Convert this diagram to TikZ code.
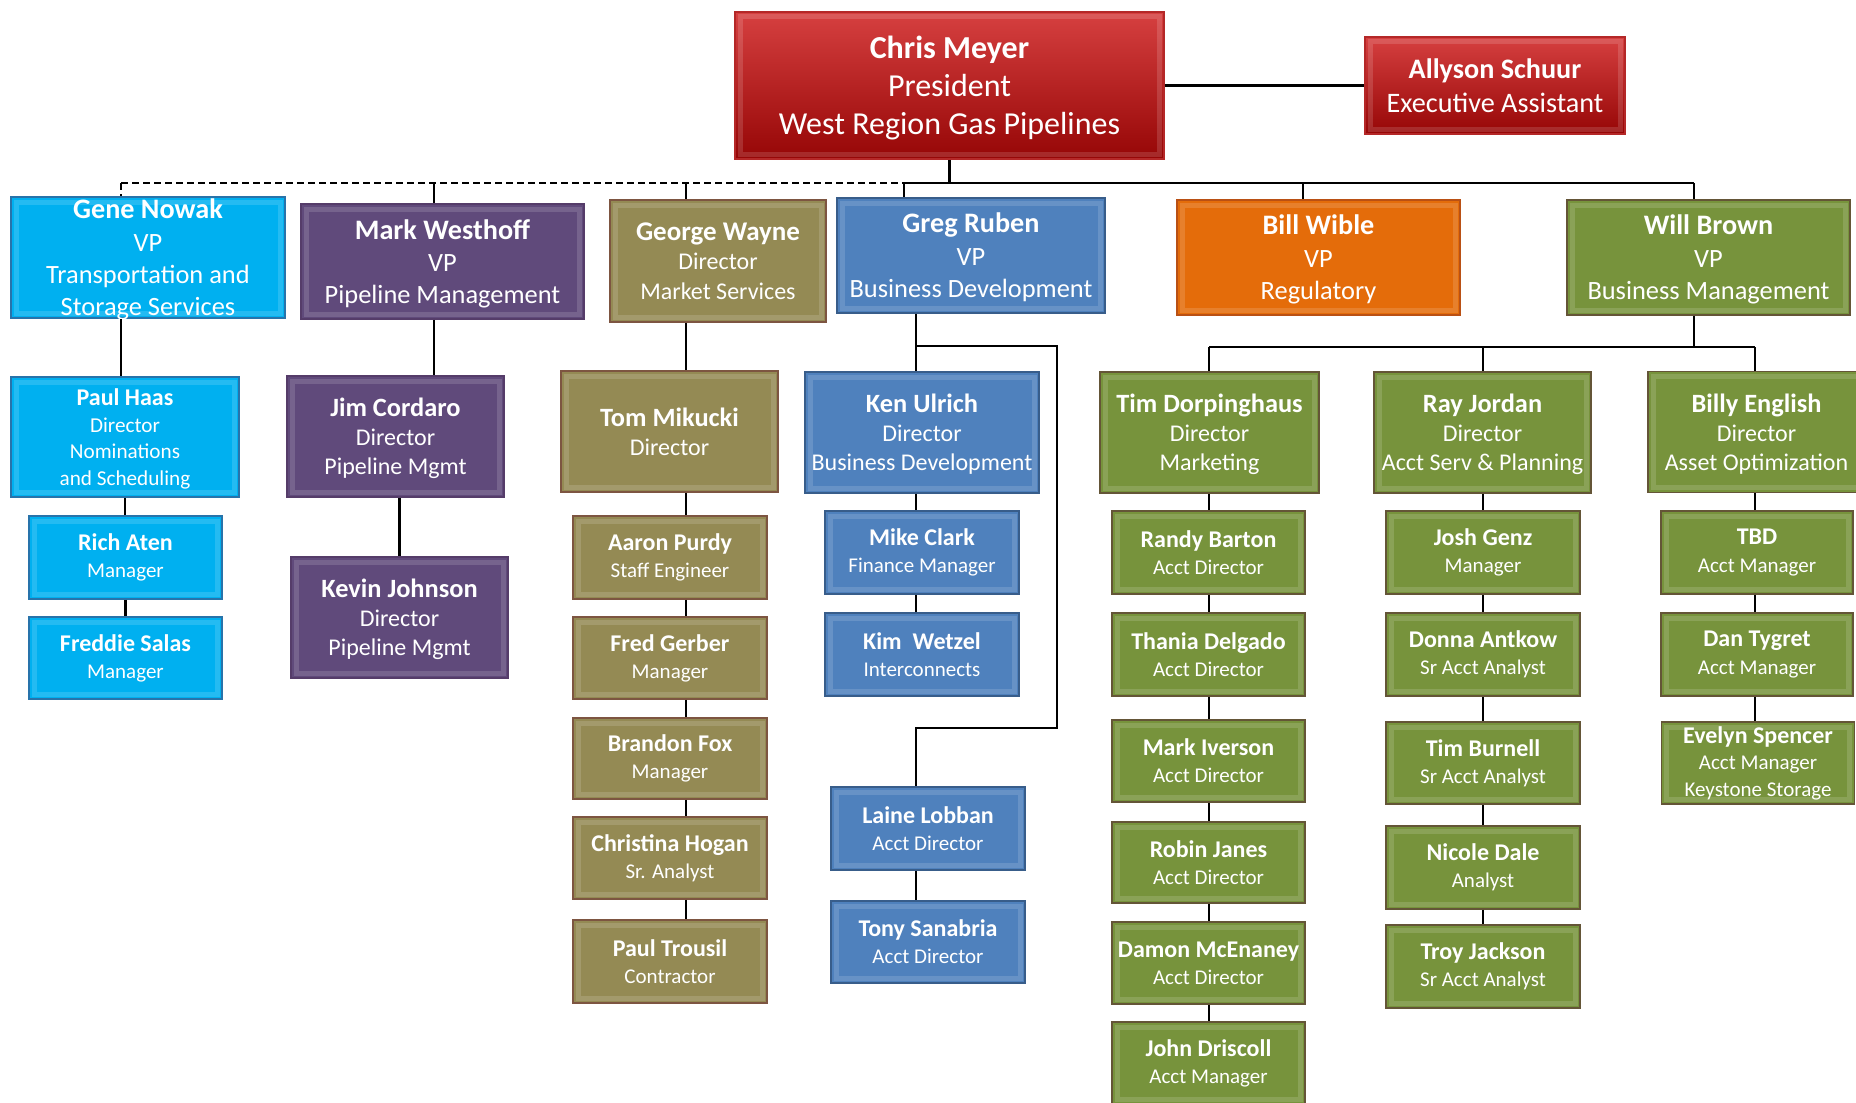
\documentclass[tikz,border=0pt]{standalone}
\usepackage{fontspec}
\setmainfont{Carlito}

\definecolor{redtop}{RGB}{214,64,64}
\definecolor{redbot}{RGB}{150,6,6}
\definecolor{redline}{RGB}{180,40,40}
\definecolor{cyanfill}{RGB}{0,176,240}
\definecolor{cyanline}{RGB}{40,115,170}
\definecolor{purplefill}{RGB}{96,74,123}
\definecolor{purpleline}{RGB}{85,60,105}
\definecolor{olivefill}{RGB}{148,138,84}
\definecolor{oliveline}{RGB}{125,85,65}
\definecolor{bluefill}{RGB}{79,129,189}
\definecolor{blueline}{RGB}{56,93,138}
\definecolor{orangefill}{RGB}{228,108,10}
\definecolor{orangeline}{RGB}{185,80,20}
\definecolor{greenfill}{RGB}{119,147,60}
\definecolor{greenline}{RGB}{100,85,55}

\tikzset{every picture/.style={line width=0.75pt}}
\tikzset{
	boxsize/.style 2 args={minimum width=#1*0.5pt, minimum height=#2*0.5pt},
	orgbox/.style={rectangle, inner sep=0pt, text=white, align=center, line width=0.8pt,
		path picture={\draw[white, opacity=0.14, line width=2.5pt]
			([shift={(2.5pt,-2.5pt)}]path picture bounding box.north west) rectangle
			([shift={(-2.5pt,2.5pt)}]path picture bounding box.south east);}},
	redbox/.style={orgbox, top color=redtop, bottom color=redbot, draw=redline},
	cyanbox/.style={orgbox, fill=cyanfill, draw=cyanline},
	purplebox/.style={orgbox, fill=purplefill, draw=purpleline},
	olivebox/.style={orgbox, fill=olivefill, draw=oliveline},
	bluebox/.style={orgbox, fill=bluefill, draw=blueline},
	orangebox/.style={orgbox, fill=orangefill, draw=orangeline},
	greenbox/.style={orgbox, fill=greenfill, draw=greenline},
	toptxt/.style={font=\fontsize{16}{19}\selectfont, text depth=0pt},
	asttxt/.style={font=\fontsize{14.1}{17}\selectfont},
	vptxt/.style={font=\fontsize{13.2}{16.2}\selectfont, text depth=0pt},
	dirtxt/.style={font=\fontsize{12}{14.5}\selectfont, text depth=0pt},
	paultxt/.style={font=\fontsize{10.6}{13.2}\selectfont, text depth=0pt},
	smalltxt/.style={font=\fontsize{10.5}{13.6}\selectfont},
	link/.style={line width=1.2pt},
}
\newcommand{\vpname}[1]{{\fontsize{14.1}{16.2}\selectfont\bfseries #1}}
\newcommand{\dirname}[1]{{\fontsize{13.2}{14.5}\selectfont\bfseries #1}}
\newcommand{\smallname}[1]{{\fontsize{12}{13.6}\selectfont\bfseries #1}}

\begin{document}
\begin{tikzpicture}[x=0.5pt,y=0.5pt,yscale=-1,xscale=1]
	%set diagram size 1856 x 1102
	\path[fill=white] (0,0) rectangle (1856,1102);
	\useasboundingbox (0,0) rectangle (1856,1102);
	
	%Top level
	\node (chris) at (949.5,85.5) [redbox, boxsize={429}{147}, toptxt] {\textbf{Chris Meyer}\\President\\West Region Gas Pipelines};
	\node (allyson) at (1495,85.5) [redbox, boxsize={260}{97}, asttxt] {\textbf{Allyson Schuur}\\Executive Assistant};
	
	%VP row
	\node (gene) at (148,257.5) [cyanbox, boxsize={274}{121}, vptxt] {\vpname{Gene Nowak}\\VP\\Transportation and\\Storage Services};
	\node (mark) at (442.5,261.5) [purplebox, boxsize={283}{115}, vptxt] {\vpname{Mark Westhoff}\\VP\\Pipeline Management};
	\node (george) at (718,261) [olivebox, boxsize={216}{122}, font=\fontsize{12}{14.8}\selectfont, text depth=0pt] {{\fontsize{13.5}{14.8}\selectfont\bfseries George Wayne}\\Director\\Market Services};
	\node (greg) at (971,255.5) [bluebox, boxsize={268}{115}, vptxt] {\vpname{Greg Ruben}\\VP\\Business Development};
	\node (bill) at (1318.5,257.5) [orangebox, boxsize={283}{115}, vptxt] {\vpname{Bill Wible}\\VP\\Regulatory};
	\node (will) at (1708.5,257.5) [greenbox, boxsize={283}{115}, vptxt] {\vpname{Will Brown}\\VP\\Business Management};
	
	%Transportation and storage
	\node (paul) at (125,437) [cyanbox, boxsize={228}{120}, paultxt] {{\fontsize{12}{13.2}\selectfont\bfseries Paul Haas}\\Director\\Nominations\\and Scheduling};
	\node (rich) at (125.5,557.5) [cyanbox, boxsize={193}{83}, smalltxt] {\smallname{Rich Aten}\\Manager};
	\node (freddie) at (125.5,658) [cyanbox, boxsize={193}{82}, smalltxt] {\smallname{Freddie Salas}\\Manager};
	
	%Pipeline management
	\node (jim) at (395.5,436.5) [purplebox, boxsize={217}{121}, dirtxt] {\dirname{Jim Cordaro}\\Director\\Pipeline Mgmt};
	\node (kevin) at (399.5,617.5) [purplebox, boxsize={217}{121}, dirtxt] {\dirname{Kevin Johnson}\\Director\\Pipeline Mgmt};
	
	%Market services
	\node (tom) at (669.5,431.5) [olivebox, boxsize={217}{121}, dirtxt] {\dirname{Tom Mikucki}\\Director};
	\node (aaron) at (670,557.5) [olivebox, boxsize={194}{83}, smalltxt] {\smallname{Aaron Purdy}\\Staff Engineer};
	\node (fred) at (670,658) [olivebox, boxsize={194}{82}, smalltxt] {\smallname{Fred Gerber}\\Manager};
	\node (brandon) at (670,758.5) [olivebox, boxsize={194}{81}, smalltxt] {\smallname{Brandon Fox}\\Manager};
	\node (christina) at (670,858) [olivebox, boxsize={194}{82}, smalltxt] {\smallname{Christina Hogan}\\Sr. Analyst};
	\node (trousil) at (670,961.5) [olivebox, boxsize={194}{83}, smalltxt] {\smallname{Paul Trousil}\\Contractor};
	
	%Business development
	\node (ken) at (922,432.5) [bluebox, boxsize={234}{121}, dirtxt] {\dirname{Ken Ulrich}\\Director\\Business Development};
	\node (mike) at (922,552.5) [bluebox, boxsize={194}{83}, smalltxt] {\smallname{Mike Clark}\\Finance Manager};
	\node (kim) at (922,654.5) [bluebox, boxsize={194}{83}, smalltxt] {\smallname{Kim\ \ Wetzel}\\Interconnects};
	\node (laine) at (928,828.5) [bluebox, boxsize={194}{83}, smalltxt] {\smallname{Laine Lobban}\\Acct Director};
	\node (tony) at (928,942) [bluebox, boxsize={194}{82}, smalltxt] {\smallname{Tony Sanabria}\\Acct Director};
	
	%Business management
	\node (tim) at (1209.5,432.5) [greenbox, boxsize={219}{121}, dirtxt] {\dirname{Tim Dorpinghaus}\\Director\\Marketing};
	\node (ray) at (1482.5,432.5) [greenbox, boxsize={217}{121}, dirtxt] {\dirname{Ray Jordan}\\Director\\Acct Serv \& Planning};
	\node (billy) at (1756.5,432) [greenbox, boxsize={217}{121}, dirtxt] {\dirname{Billy English}\\Director\\Asset Optimization};
	
	\node (randy) at (1208.5,552.5) [greenbox, boxsize={193}{83}, smalltxt] {\smallname{Randy Barton}\\Acct Director};
	\node (thania) at (1208.5,654.5) [greenbox, boxsize={193}{83}, smalltxt] {\smallname{Thania Delgado}\\Acct Director};
	\node (iverson) at (1208.5,761) [greenbox, boxsize={193}{82}, smalltxt] {\smallname{Mark Iverson}\\Acct Director};
	\node (robin) at (1208.5,862.5) [greenbox, boxsize={193}{81}, smalltxt] {\smallname{Robin Janes}\\Acct Director};
	\node (damon) at (1208.5,963) [greenbox, boxsize={193}{82}, smalltxt] {\smallname{Damon McEnaney}\\Acct Director};
	\node (john) at (1208.5,1063) [greenbox, boxsize={193}{82}, smalltxt] {\smallname{John Driscoll}\\Acct Manager};
	
	\node (josh) at (1483,552.5) [greenbox, boxsize={194}{83}, smalltxt] {\smallname{Josh Genz}\\Manager};
	\node (donna) at (1483,654.5) [greenbox, boxsize={194}{83}, smalltxt] {\smallname{Donna Antkow}\\Sr Acct Analyst};
	\node (burnell) at (1483,763) [greenbox, boxsize={194}{82}, smalltxt] {\smallname{Tim Burnell}\\Sr Acct Analyst};
	\node (nicole) at (1483,867.5) [greenbox, boxsize={194}{83}, smalltxt] {\smallname{Nicole Dale}\\Analyst};
	\node (troy) at (1483,966.5) [greenbox, boxsize={194}{83}, smalltxt] {\smallname{Troy Jackson}\\Sr Acct Analyst};
	
	\node (tbd) at (1757,552.5) [greenbox, boxsize={192}{83}, smalltxt] {\smallname{TBD}\\Acct Manager};
	\node (dan) at (1757,654.5) [greenbox, boxsize={192}{83}, smalltxt] {\smallname{Dan Tygret}\\Acct Manager};
	\node (evelyn) at (1758,763) [greenbox, boxsize={193}{82}, font=\fontsize{10.5}{13.3}\selectfont] {{\fontsize{12}{13.3}\selectfont\bfseries Evelyn Spencer}\\Acct Manager\\Keystone Storage};
	
	%Bus under the president
	\coordinate (busG) at (121,183);
	\coordinate (busM) at (434,183);
	\coordinate (busO) at (686,183);
	\coordinate (busB) at (904,183);
	\coordinate (busW) at (1303,183);
	\coordinate (busR) at (1694,183);
	
	\draw [link] (chris.east) -- (allyson.west);
	\draw [link] (chris.south) -- (chris.south |- busB);
	\draw [link] (busB) -- (busR);
	\draw [link, dash pattern=on 3.5pt off 2pt] (busG) -- (busB);
	\draw [link, dash pattern=on 3.5pt off 2pt] (busG) -- (busG |- gene.north);
	\draw [link] (busM) -- (busM |- mark.north);
	\draw [link] (busO) -- (busO |- george.north);
	\draw [link] (busB) -- (busB |- greg.north);
	\draw [link] (busW) -- (busW |- bill.north);
	\draw [link] (busR) -- (busR |- will.north);
	
	%Cyan column
	\draw [link] (busG |- gene.south) -- (busG |- paul.north);
	\draw [link] (paul.south) -- (paul.south |- rich.north);
	\draw [link] (rich.south) -- (rich.south |- freddie.north);
	
	%Purple column
	\draw [link] (busM |- mark.south) -- (busM |- jim.north);
	\draw [link] (kevin.north |- jim.south) -- (kevin.north);
	
	%Olive column
	\draw [link] (busO |- george.south) -- (busO |- tom.north);
	\draw [link] (busO |- tom.south) -- (busO |- aaron.north);
	\draw [link] (busO |- aaron.south) -- (busO |- fred.north);
	\draw [link] (busO |- fred.south) -- (busO |- brandon.north);
	\draw [link] (busO |- brandon.south) -- (busO |- christina.north);
	\draw [link] (busO |- christina.south) -- (busO |- trousil.north);
	
	%Blue column
	\coordinate (bTop) at (916,346);
	\coordinate (bRight) at (1057,346);
	\coordinate (bLow) at (1057,728);
	\coordinate (bLeft) at (916,728);
	\draw [link] (bTop |- greg.south) -- (bTop) -- (bRight) -- (bLow) -- (bLeft) -- (bLeft |- laine.north);
	\draw [link] (bTop) -- (bTop |- ken.north);
	\draw [link] (bTop |- ken.south) -- (bTop |- mike.north);
	\draw [link] (bTop |- mike.south) -- (bTop |- kim.north);
	\draw [link] (bTop |- laine.south) -- (bTop |- tony.north);
	
	%Green columns
	\coordinate (gTim) at (1209,347);
	\coordinate (gRay) at (1483,347);
	\coordinate (gBilly) at (1755,347);
	\draw [link] (gTim) -- (gBilly);
	\draw [link] (busR |- will.south) -- (busR |- gTim);
	\draw [link] (gTim) -- (gTim |- tim.north);
	\draw [link] (gRay) -- (gRay |- ray.north);
	\draw [link] (gBilly) -- (gBilly |- billy.north);
	
	\draw [link] (gTim |- tim.south) -- (gTim |- randy.north);
	\draw [link] (gTim |- randy.south) -- (gTim |- thania.north);
	\draw [link] (gTim |- thania.south) -- (gTim |- iverson.north);
	\draw [link] (gTim |- iverson.south) -- (gTim |- robin.north);
	\draw [link] (gTim |- robin.south) -- (gTim |- damon.north);
	\draw [link] (gTim |- damon.south) -- (gTim |- john.north);
	
	\draw [link] (gRay |- ray.south) -- (gRay |- josh.north);
	\draw [link] (gRay |- josh.south) -- (gRay |- donna.north);
	\draw [link] (gRay |- donna.south) -- (gRay |- burnell.north);
	\draw [link] (gRay |- burnell.south) -- (gRay |- nicole.north);
	\draw [link] (gRay |- nicole.south) -- (gRay |- troy.north);
	
	\draw [link] (gBilly |- billy.south) -- (gBilly |- tbd.north);
	\draw [link] (gBilly |- tbd.south) -- (gBilly |- dan.north);
	\draw [link] (gBilly |- dan.south) -- (gBilly |- evelyn.north);
	
\end{tikzpicture}
\end{document}
